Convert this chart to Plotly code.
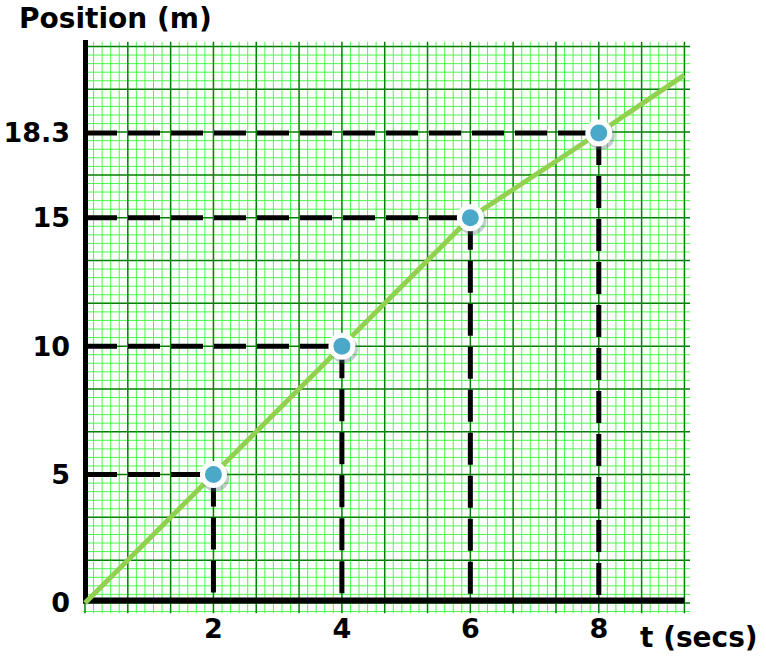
import plotly.graph_objects as go

# Data
point_t = [2, 4, 6, 8]
point_pos = [5, 10, 15, 18.3]
line_t = [0, 2, 4, 6, 8, 9.33]
line_pos = [0, 5, 10, 15, 18.3, 20.55]
x_tick_vals = [2, 4, 6, 8]
x_tick_text = ["2", "4", "6", "8"]
y_tick_vals = [0, 5, 10, 15, 18.3]
y_tick_text = ["0", "5", "10", "15", "18.3"]

FONT = "DejaVu Sans"
X_RANGE = [-0.031, 9.42]
Y_RANGE = [-0.43, 21.92]
X_END = 9.333
X_MINOR = 2 / 15
Y_MINOR = 1 / 3
DARK = "#008000"
LIGHT = "#4cf84c"
PX_X = 607 / (X_RANGE[1] - X_RANGE[0])   # pixels per data unit
PX_Y = 574 / (Y_RANGE[1] - Y_RANGE[0])

fig = go.Figure()

# graph-paper grid
shapes = []
for k in range(0, 71):
    xv = k * X_MINOR
    major = k % 5 == 0
    shapes.append(dict(type="line", xref="x", yref="y", x0=xv, x1=xv, y0=-0.4, y1=21.85,
                       line=dict(color=DARK if major else LIGHT, width=1.5 if major else 1),
                       layer="below"))
for k in range(-1, 66):
    yv = k * Y_MINOR
    major = k % 5 == 0
    shapes.append(dict(type="line", xref="x", yref="y", x0=-0.031, x1=9.45, y0=yv, y1=yv,
                       line=dict(color=DARK if major else LIGHT, width=1.5 if major else 1),
                       layer="below"))
shapes.sort(key=lambda s: s["line"]["color"] == DARK)

# axis lines
shapes.append(dict(type="line", xref="x", yref="y", x0=0, x1=0, y0=0, y1=Y_RANGE[1] + 0.2,
                   line=dict(color="black", width=6), layer="between"))
shapes.append(dict(type="line", xref="x", yref="y", x0=-0.03, x1=X_END, y0=0.1, y1=0.1,
                   line=dict(color="black", width=6), layer="between"))

# dashed guide lines
for t, p in zip(point_t, point_pos):
    fig.add_trace(go.Scatter(x=[0, t], y=[p, p], mode="lines",
                             line=dict(color="black", width=5, dash="32px,11px"),
                             hoverinfo="skip", showlegend=False))
    fig.add_trace(go.Scatter(x=[t, t], y=[p, 0], mode="lines",
                             line=dict(color="black", width=5, dash="32px,11px"),
                             hoverinfo="skip", showlegend=False))

# green position line
fig.add_trace(go.Scatter(x=line_t, y=line_pos, mode="lines",
                         line=dict(color="#92d050", width=5), showlegend=False))
# soft shadow under the points (offset a couple of pixels down-right)
fig.add_trace(go.Scatter(x=[t + 2 / PX_X for t in point_t], y=[p - 3 / PX_Y for p in point_pos],
                         mode="markers",
                         marker=dict(size=28, color="rgba(90,110,120,0.35)", line=dict(width=0)),
                         hoverinfo="skip", showlegend=False))
# points
fig.add_trace(go.Scatter(x=point_t, y=point_pos, mode="markers",
                         marker=dict(size=22, color="#4aa9c9",
                                     line=dict(color="white", width=5)),
                         showlegend=False))

tickfont = dict(family=FONT, size=27, color="black", weight="bold")
fig.update_layout(
    width=766, height=662,
    margin=dict(l=83, r=76, t=40, b=48, autoexpand=False),
    paper_bgcolor="white", plot_bgcolor="white",
    shapes=shapes,
    xaxis=dict(range=X_RANGE, showgrid=False, zeroline=False, showline=False, ticks="",
               tickmode="array", tickvals=x_tick_vals, ticktext=x_tick_text,
               tickfont=tickfont, ticklabelstandoff=-4, automargin=False),
    yaxis=dict(range=Y_RANGE, showgrid=False, zeroline=False, showline=False, ticks="",
               tickmode="array", tickvals=y_tick_vals, ticktext=y_tick_text,
               tickfont=tickfont, ticklabelstandoff=12, automargin=False),
    title=dict(text="Position (m)", x=19/766, xanchor="left", y=1 - 18/662, yanchor="middle",
               font=dict(family=FONT, size=28, color="black", weight="bold")),
    annotations=[dict(text="t (secs)", xref="paper", yref="paper",
                      x=(638 - 83) / 607, y=-23 / 574, xanchor="left", yanchor="middle",
                      showarrow=False,
                      font=dict(family=FONT, size=28, color="black", weight="bold"))],
)

fig.write_html("out.html", config={"displayModeBar": False},
               post_script="document.body.style.margin='0';document.body.style.padding='0';")
